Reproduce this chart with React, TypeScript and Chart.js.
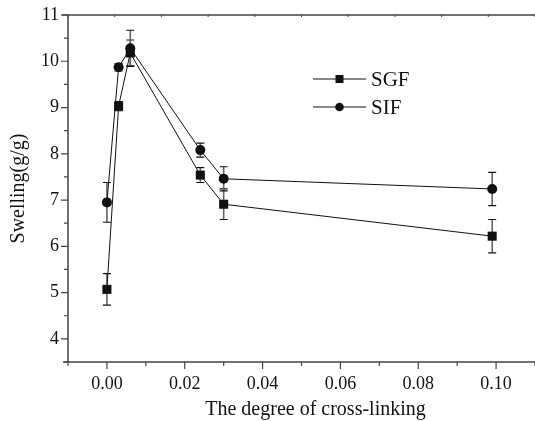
import React, { useEffect, useRef } from "react";
import { Chart, registerables } from "chart.js";

Chart.register(...registerables);

const xValues = [0, 0.003, 0.006, 0.024, 0.03, 0.099];
const sgfValues = [5.07, 9.03, 10.18, 7.54, 6.91, 6.22];
const sgfErrors = [0.34, 0.1, 0.28, 0.16, 0.33, 0.36];
const sifValues = [6.95, 9.87, 10.28, 8.08, 7.46, 7.24];
const sifErrors = [0.43, 0.08, 0.39, 0.15, 0.26, 0.36];
const seriesLabels = ["SGF", "SIF"];
const xTitle = "The degree of cross-linking";
const yTitle = "Swelling(g/g)";

const FONT = "'Liberation Serif', 'Times New Roman', serif";
const errorSets = [sgfErrors, sifErrors];

const decorPlugin = {
  id: "decor",
  beforeDatasetsDraw(chart: any) {
    const { ctx } = chart;
    const xs = chart.scales.x;
    const ys = chart.scales.y;
    ctx.save();
    chart.data.datasets.forEach((ds: any, di: number) => {
      const errs = errorSets[di];
      ds.data.forEach((p: any, i: number) => {
        const e = errs[i];
        const px = xs.getPixelForValue(p.x);
        const top = ys.getPixelForValue(p.y + e);
        const bot = ys.getPixelForValue(p.y - e);
        ctx.strokeStyle = "#666";
        ctx.lineWidth = 1.6;
        ctx.beginPath();
        ctx.moveTo(px, top);
        ctx.lineTo(px, bot);
        ctx.stroke();
        ctx.strokeStyle = "#111";
        ctx.lineWidth = 1.2;
        ctx.beginPath();
        ctx.moveTo(px - 4, top);
        ctx.lineTo(px + 4, top);
        ctx.moveTo(px - 4, bot);
        ctx.lineTo(px + 4, bot);
        ctx.stroke();
      });
    });
    ctx.restore();
  },
  afterDraw(chart: any) {
    const { ctx, chartArea } = chart;
    const xs = chart.scales.x;
    const ys = chart.scales.y;
    const { left, right, top, bottom } = chartArea;
    ctx.save();
    ctx.strokeStyle = "#444";
    ctx.lineWidth = 1.5;
    ctx.beginPath();
    ctx.moveTo(left, top);
    ctx.lineTo(left, bottom);
    ctx.moveTo(left - 5, bottom);
    ctx.lineTo(right, bottom);
    ctx.moveTo(left - 6, top);
    ctx.lineTo(right, top);
    ctx.stroke();
    ctx.lineWidth = 1.2;
    ctx.beginPath();
    xs.ticks.forEach((t: any) => {
      const v = t.value;
      const k = Math.round(v * 100);
      if (k < -1 || k > 11) return;
      const px = xs.getPixelForValue(v);
      const major = k % 2 === 0;
      ctx.moveTo(px, bottom);
      ctx.lineTo(px, bottom + (major ? 7 : 4));
    });
    ys.ticks.forEach((t: any) => {
      const v = t.value;
      const py = ys.getPixelForValue(v);
      const major = Math.abs(v - Math.round(v)) < 1e-6;
      ctx.moveTo(left, py);
      ctx.lineTo(left - (major ? 7 : 4), py);
    });
    ctx.stroke();
    ctx.lineWidth = 1;
    ctx.beginPath();
    for (let v = -0.01; v <= 0.11 + 1e-9; v += 0.012) {
      const px = xs.getPixelForValue(v);
      ctx.moveTo(px, top);
      ctx.lineTo(px, top + 2);
    }
    ctx.stroke();

    // x-axis title (centred as in the reference, slightly right of the visible axis centre)
    ctx.fillStyle = "#111";
    ctx.font = `20px ${FONT}`;
    ctx.textAlign = "center";
    ctx.textBaseline = "middle";
    ctx.fillText(xTitle, xs.getPixelForValue(0.0536), 410);

    const lx0 = 313;
    const lx1 = 366;
    const ly = [79, 107];
    chart.data.datasets.forEach((ds: any, i: number) => {
      const y = ly[i];
      ctx.strokeStyle = "#111";
      ctx.lineWidth = 1;
      ctx.beginPath();
      ctx.moveTo(lx0, y);
      ctx.lineTo(lx1, y);
      ctx.stroke();
      ctx.fillStyle = "#111";
      const mx = (lx0 + lx1) / 2;
      if (i === 0) {
        ctx.fillRect(mx - 4, y - 4, 8, 8);
      } else {
        ctx.beginPath();
        ctx.arc(mx, y, 4.3, 0, Math.PI * 2);
        ctx.fill();
      }
      ctx.font = `21px ${FONT}`;
      ctx.textBaseline = "middle";
      ctx.textAlign = "left";
      ctx.fillText(ds.label, 371, y + 1);
    });
    ctx.restore();
  },
};

export default function App() {
  const ref = useRef<HTMLCanvasElement | null>(null);
  useEffect(() => {
    if (!ref.current) return;
    const chart = new Chart(ref.current, {
      type: "line",
      data: {
        datasets: [
          {
            label: seriesLabels[0],
            data: xValues.map((x, i) => ({ x, y: sgfValues[i] })),
            borderColor: "#111",
            backgroundColor: "#111",
            borderWidth: 1,
            pointStyle: "rect",
            pointRadius: 6.4,
            pointBorderWidth: 0,
            tension: 0,
            clip: false,
          },
          {
            label: seriesLabels[1],
            data: xValues.map((x, i) => ({ x, y: sifValues[i] })),
            borderColor: "#111",
            backgroundColor: "#111",
            borderWidth: 1,
            pointStyle: "circle",
            pointRadius: 5,
            pointBorderWidth: 0,
            tension: 0,
            clip: false,
          },
        ],
      },
      options: {
        animation: false,
        responsive: false,
        devicePixelRatio: 1,
        layout: { autoPadding: false, padding: { top: 15, right: 0, left: 0, bottom: 0 } },
        plugins: { legend: { display: false }, tooltip: { enabled: false } },
        scales: {
          x: {
            type: "linear",
            min: -0.01,
            max: 0.11,
            afterFit: (s: any) => {
              s.height = 59;
              s.paddingLeft = 0;
              s.paddingRight = 0;
            },
            grid: { display: false, drawTicks: false },
            border: { display: false },
            ticks: {
              stepSize: 0.01,
              autoSkip: false,
              maxRotation: 0,
              padding: 11,
              color: "#111",
              font: { family: FONT, size: 18 },
              callback: (v: any) => {
                const k = Math.round(Number(v) * 100);
                if (k >= 0 && k <= 10 && k % 2 === 0) return (k / 100).toFixed(2);
                return "";
              },
            },
            title: { display: false, text: xTitle },
          },
          y: {
            min: 3.5,
            max: 11,
            afterFit: (s: any) => {
              s.width = 68;
              s.paddingTop = 0;
              s.paddingBottom = 0;
            },
            grid: { display: false, drawTicks: false },
            border: { display: false },
            ticks: {
              stepSize: 0.5,
              autoSkip: false,
              padding: 9,
              color: "#111",
              font: { family: FONT, size: 18 },
              callback: (v: any) => {
                const n = Number(v);
                if (Math.abs(n - Math.round(n)) < 1e-6 && n >= 4) return String(Math.round(n));
                return "";
              },
            },
            title: {
              display: true,
              text: yTitle,
              color: "#111",
              font: { family: FONT, size: 20, lineHeight: 1.1 },
              padding: { top: 8, bottom: 0 },
            },
          },
        },
      },
      plugins: [decorPlugin],
    } as any);
    return () => chart.destroy();
  }, []);
  return (
    <div style={{ position: "absolute", left: 0, top: 0, width: 535, height: 421, background: "#fff" }}>
      <canvas ref={ref} width={535} height={421} />
    </div>
  );
}
